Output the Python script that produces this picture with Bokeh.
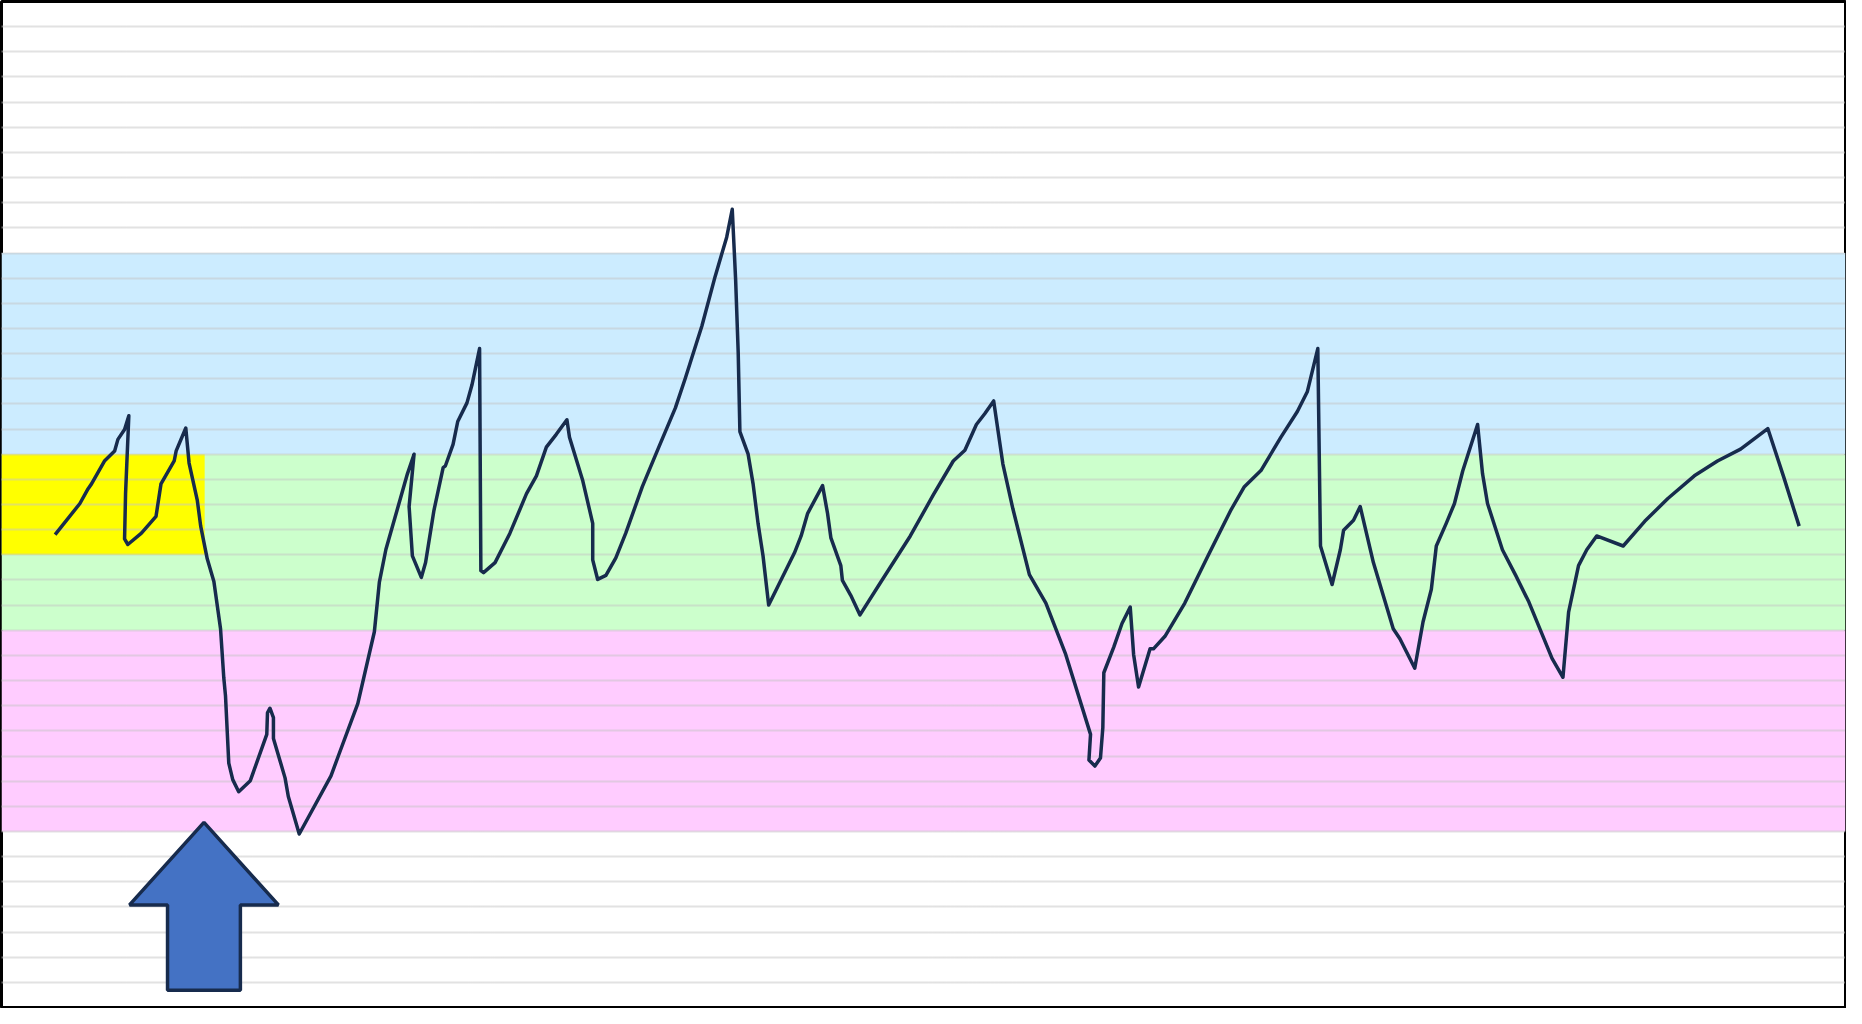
from bokeh.plotting import figure
from bokeh.models import Range1d, FixedTicker
from bokeh.embed import file_html
from bokeh.resources import INLINE

# ---- data (x: horizontal position units, y: grid units 0..40) ----
line_x = [55, 80, 88.3, 91.7, 105, 115, 118.3, 125, 129.3, 126, 125, 128.3, 142, 156.7,
          161.7, 175, 177, 186.7, 190, 198.3, 201.7, 208.3, 215, 221.7, 225, 226.7, 230, 234,
          240, 251.7, 268.3, 269, 271.5, 275, 275, 286.7, 290, 301, 333, 340, 360, 376.7,
          381.7, 388.3, 410, 416.7, 411.7, 415, 424, 428.3, 436.7, 446, 448.3, 456, 460.7,
          470, 475, 482.7, 484, 486.7, 498.3, 513.3, 530, 540, 550, 560, 570.7, 573.3, 586.7,
          596.7, 596.7, 601.7, 610, 620, 630, 646.7, 663.3, 680, 690, 706.7, 720, 731.7,
          737.3, 740.7, 743.3, 745, 753.3, 758.3, 763.3, 768.3, 774, 800, 806.7, 813.3,
          828.3, 833.3, 836.7, 846.7, 848.3, 856.7, 866, 886.7, 916.7, 940, 960, 971.7,
          983.3, 991.7, 1000.7, 1010, 1020, 1036.7, 1053.3, 1073.3, 1098.3, 1096.7, 1102.7,
          1108.3, 1110.7, 1111.7, 1121.7, 1130, 1138.3, 1141.7, 1146.7, 1158.3, 1161.7,
          1173.3, 1193.3, 1216.7, 1240, 1253.3, 1270, 1290, 1306.7, 1316.7, 1327.3, 1330,
          1341.7, 1350, 1353.3, 1363.3, 1370, 1383.3, 1403.3, 1410, 1425, 1433.3, 1441.7,
          1446.7, 1456.7, 1465, 1473.3, 1488.3, 1493.3, 1498.3, 1513.3, 1526.7, 1540, 1563.3,
          1574.3, 1580, 1590, 1598.3, 1608.3, 1635, 1656.7, 1680, 1706.7, 1730, 1753.3,
          1780.7, 1796.7, 1812.3]
line_y = [18.80, 20.04, 20.63, 20.82, 21.74, 22.13, 22.59, 22.98, 23.53, 20.43, 18.63, 18.41,
          18.86, 19.53, 20.82, 21.73, 22.13, 23.04, 21.65, 20.16, 19.14, 17.84, 16.94, 15.06,
          13.10, 12.39, 9.72, 9.06, 8.58, 9.02, 10.86, 11.72, 11.90, 11.53, 10.70, 9.13, 8.39,
          6.90, 9.21, 9.96, 12.08, 14.94, 16.90, 18.21, 21.22, 22.00, 19.92, 17.96, 17.10,
          17.69, 19.76, 21.47, 21.54, 22.39, 23.30, 24.04, 24.75, 26.20, 17.37, 17.29, 17.69,
          18.86, 20.43, 21.14, 22.28, 22.79, 23.37, 22.67, 20.94, 19.25, 17.80, 17.02, 17.18,
          17.88, 18.86, 20.71, 22.28, 23.84, 25.02, 27.10, 29.06, 30.63, 31.74, 28.94, 26.04,
          22.90, 22.00, 20.82, 19.25, 17.96, 16.00, 18.08, 18.75, 19.65, 20.75, 19.65, 18.67,
          17.57, 16.98, 16.39, 15.61, 16.90, 18.75, 20.39, 21.73, 22.16, 23.18, 23.61, 24.12,
          21.61, 19.84, 17.21, 16.08, 14.04, 10.86, 9.84, 9.60, 9.92, 11.13, 13.31, 14.33,
          15.27, 15.92, 14.04, 12.74, 14.26, 14.26, 14.76, 16.08, 17.96, 19.80, 20.71, 21.35,
          22.67, 23.70, 24.48, 26.20, 18.35, 16.82, 18.20, 18.98, 19.37, 19.92, 17.69, 15.06,
          14.66, 13.49, 15.33, 16.63, 18.35, 19.25, 20.04, 21.33, 23.18, 21.22, 20.04, 18.20,
          17.18, 16.12, 13.88, 13.13, 15.72, 17.57, 18.20, 18.75, 18.35, 19.33, 20.24, 21.14,
          21.73, 22.20, 23.02, 21.10, 19.14]

# colour bands (bottom, top, colour)
band_bottom = [22, 15, 7]
band_top = [30, 22, 15]
band_color = ["#CCECFF", "#CCFFCC", "#FFCCFF"]

# highlighted zone
zone_left, zone_right = [1], [205.7]
zone_bottom, zone_top = [18], [22]

# up arrow outline
arrow_x = [205, 280, 241.7, 241.7, 168.3, 168.3, 130]
arrow_y = [7.36, 4.08, 4.08, 0.69, 0.69, 4.08, 4.08]

grid_ticks = list(range(1, 40))

X0, X1 = 1, 1859
Y0, Y1 = 0, 40

p = figure(width=1846, height=1008, output_backend="svg", toolbar_location=None,
           x_range=Range1d(X0, X1), y_range=Range1d(Y0, Y1),
           x_axis_location=None, y_axis_location=None,
           min_border_left=1, min_border_right=1, min_border_top=1, min_border_bottom=1)
p.background_fill_color = "white"
p.border_fill_color = "white"
p.outline_line_color = "black"
p.outline_line_width = 3

bands = p.quad(left=X0, right=X1, bottom=band_bottom, top=band_top,
               fill_color=band_color, line_color=None)
bands.level = "image"
zone = p.quad(left=zone_left, right=zone_right, bottom=zone_bottom, top=zone_top,
              fill_color="#FFFF00", line_color=None)
zone.level = "image"

p.xgrid.visible = False
p.ygrid.ticker = FixedTicker(ticks=grid_ticks)
p.ygrid.grid_line_color = "#C4C4C4"
p.ygrid.grid_line_width = 2
p.ygrid.grid_line_dash = "1 1"
p.ygrid.level = "underlay"

p.line(line_x, line_y, line_color="#172B4D", line_width=3.5, line_join="round")
p.patch(arrow_x, arrow_y, fill_color="#4472C4", line_color="#172B4D", line_width=3.5)

open("out.html", "w").write(file_html(p, INLINE))
